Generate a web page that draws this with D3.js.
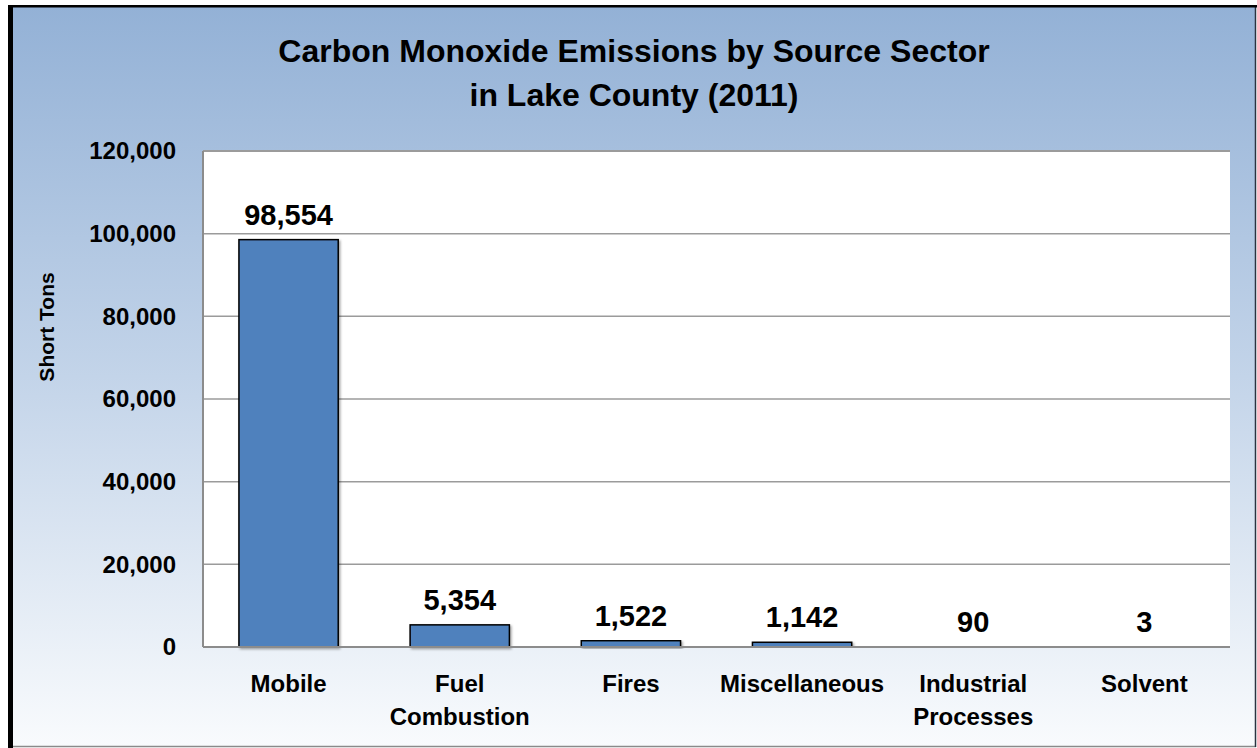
<!DOCTYPE html>
<html>
<head>
<meta charset="utf-8">
<script src="https://cdn.jsdelivr.net/npm/d3@7/dist/d3.min.js"></script>
<style>
  html, body { margin: 0; padding: 0; background: #ffffff; }
  svg { display: block; }
  text { font-family: "Liberation Sans", Arial, sans-serif; font-weight: bold; fill: #000; }
</style>
</head>
<body>
<svg id="chart" width="1257" height="748"></svg>
<script>
// ---- Data ----
const categories = [["Mobile"], ["Fuel", "Combustion"], ["Fires"], ["Miscellaneous"], ["Industrial", "Processes"], ["Solvent"]];
const values = [98554, 5354, 1522, 1142, 90, 3];
const yTicks = [0, 20000, 40000, 60000, 80000, 100000, 120000];
const titleLines = ["Carbon Monoxide Emissions by Source Sector", "in Lake County (2011)"];
const yAxisTitle = "Short Tons";

// ---- Layout ----
const W = 1257, H = 748;
const plot = { left: 203, right: 1230, top: 151, bottom: 647 };

const svg = d3.select("#chart");
const defs = svg.append("defs");
const grad = defs.append("linearGradient").attr("id", "bg").attr("x1", 0).attr("y1", 0).attr("x2", 0).attr("y2", 1);
grad.append("stop").attr("offset", "0%").attr("stop-color", "#93b1d6");
grad.append("stop").attr("offset", "50%").attr("stop-color", "#c3d4e9");
grad.append("stop").attr("offset", "100%").attr("stop-color", "#f9fbfd");

const shadow = defs.append("filter").attr("id", "shadow").attr("x", "-10%").attr("y", "-10%").attr("width", "130%").attr("height", "130%");
shadow.append("feDropShadow").attr("dx", 1.5).attr("dy", 1.5).attr("stdDeviation", 1.2).attr("flood-color", "#000").attr("flood-opacity", 0.35);

// Chart background
svg.append("rect").attr("x", 10).attr("y", 6).attr("width", 1246).attr("height", 741).attr("fill", "url(#bg)");
// Borders
svg.append("line").attr("x1", 10).attr("x2", 1256).attr("y1", 746.5).attr("y2", 746.5).attr("stroke", "#8a8a8a").attr("stroke-width", 1.5);
svg.append("line").attr("x1", 1255.5).attr("x2", 1255.5).attr("y1", 6).attr("y2", 747).attr("stroke", "#2b3340").attr("stroke-width", 1.5);
svg.append("line").attr("x1", 10.5).attr("x2", 10.5).attr("y1", 5).attr("y2", 748).attr("stroke", "#000").attr("stroke-width", 5);
svg.append("line").attr("x1", 8).attr("x2", 1257).attr("y1", 6.3).attr("y2", 6.3).attr("stroke", "#000").attr("stroke-width", 2.6);

// Plot area
svg.append("rect").attr("x", plot.left).attr("y", plot.top).attr("width", plot.right - plot.left).attr("height", plot.bottom - plot.top).attr("fill", "#ffffff");

// Scales
const x = d3.scaleBand().domain(d3.range(categories.length)).range([plot.left, plot.right]).paddingInner(0.42).paddingOuter(0.21);
const y = d3.scaleLinear().domain([0, 120000]).range([plot.bottom, plot.top]);

// Gridlines
svg.append("g").selectAll("line").data(yTicks.filter(d => d > 0)).join("line")
  .attr("x1", plot.left).attr("x2", plot.right)
  .attr("y1", d => y(d)).attr("y2", d => y(d))
  .attr("stroke", "#9b9b9b").attr("stroke-width", d => d === 120000 ? 2 : 1.5);

// Left axis line
svg.append("line").attr("x1", plot.left).attr("x2", plot.left).attr("y1", plot.top).attr("y2", plot.bottom).attr("stroke", "#8c8c8c").attr("stroke-width", 2);

// Bars
svg.append("g").selectAll("rect").data(values).join("rect")
  .attr("x", (d, i) => x(i))
  .attr("y", d => y(d))
  .attr("width", x.bandwidth())
  .attr("height", d => Math.max(0, y(0) - y(d)))
  .attr("fill", "#4f81bd")
  .attr("stroke", d => (y(0) - y(d)) > 1 ? "#000" : "#b0b0b0")
  .attr("stroke-width", 1.5)
  .attr("filter", "url(#shadow)");

// Baseline axis
svg.append("line").attr("x1", plot.left).attr("x2", plot.right).attr("y1", y(0)).attr("y2", y(0)).attr("stroke", "#8c8c8c").attr("stroke-width", 2);

// Value labels
const fmt = d3.format(",");
svg.append("g").selectAll("text").data(values).join("text")
  .attr("x", (d, i) => x(i) + x.bandwidth() / 2)
  .attr("y", d => y(d) - 15)
  .attr("text-anchor", "middle")
  .style("font-size", "29px")
  .text(d => fmt(d));

// Y tick labels
svg.append("g").selectAll("text").data(yTicks).join("text")
  .attr("x", 176)
  .attr("y", d => y(d))
  .attr("dy", "0.35em")
  .attr("text-anchor", "end")
  .style("font-size", "24px")
  .text(d => fmt(d));

// Category labels
const cat = svg.append("g").selectAll("text").data(categories).join("text")
  .attr("text-anchor", "middle")
  .style("font-size", "24px");
cat.selectAll("tspan").data((d, i) => d.map(t => ({ t, i }))).join("tspan")
  .attr("x", d => x(d.i) + x.bandwidth() / 2)
  .attr("y", (d, j) => 692 + j * 33)
  .text(d => d.t);

// Y axis title
svg.append("text")
  .attr("transform", "translate(54,327) rotate(-90)")
  .attr("text-anchor", "middle")
  .style("font-size", "21px")
  .text(yAxisTitle);

// Title
svg.append("g").selectAll("text").data(titleLines).join("text")
  .attr("x", 634)
  .attr("y", (d, i) => 62 + i * 44)
  .attr("text-anchor", "middle")
  .style("font-size", "32px")
  .text(d => d);
</script>
</body>
</html>
